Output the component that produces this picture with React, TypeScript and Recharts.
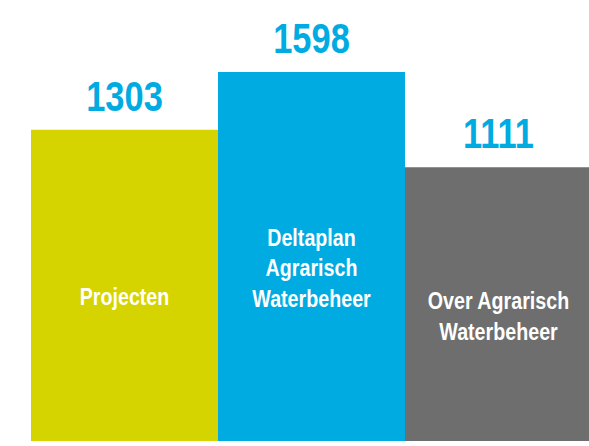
import { BarChart, Bar, XAxis, YAxis, Cell, LabelList } from 'recharts';

const CATEGORIES = ['Projecten', 'Deltaplan\nAgrarisch\nWaterbeheer', 'Over Agrarisch\nWaterbeheer'];
const VALUES = [1303, 1598, 1111];
const BAR_COLORS = ['#d5d400', '#00abe2', '#6e6e6e'];

// axis range (hidden axis)
const Y_DOMAIN: [number, number] = [-290, 1598];

const data = CATEGORIES.map((name, i) => ({ name, value: VALUES[i] }));

// no narrow font installed, so squeeze a regular bold one
const FONT = '"Liberation Sans", Arial, sans-serif';
const SQUEEZE = 0.82;

const ValueLabel = (props: any) => {
    const { x, y, width, value } = props;
    const cx = x + width / 2;
    return (
        <text
            transform={`translate(${cx},${y - 19}) scale(${SQUEEZE},1)`}
            textAnchor="middle"
            fill="#00abe2"
            fontFamily={FONT}
            fontWeight="bold"
            fontSize={42}
        >
            {value}
        </text>
    );
};

const NameLabel = (props: any) => {
    const { x, y, width, height, value } = props;
    const lines = String(value).split('\n');
    const lineH = 31;
    const cx = x + width / 2;
    const cy = y + height / 2 + 12;
    const first = cy - ((lines.length - 1) * lineH) / 2 + 8;
    return (
        <text
            transform={`translate(${cx},${first}) scale(${SQUEEZE},1)`}
            textAnchor="middle"
            fill="#ffffff"
            fontFamily={FONT}
            fontWeight="bold"
            fontSize={24}
        >
            {lines.map((l, i) => (
                <tspan key={i} x={0} y={i * lineH}>{l}</tspan>
            ))}
        </text>
    );
};

export default function App() {
    return (
        <div style={{ width: 589, height: 446, overflow: 'hidden', background: '#fff' }}>
            <style>{`body{margin:0}`}</style>
            <BarChart
                width={592}
                height={446}
                data={data}
                margin={{ top: 72, right: 0, bottom: 5, left: 31 }}
                barCategoryGap={0}
                barGap={0}
            >
                <XAxis dataKey="name" hide />
                <YAxis hide domain={Y_DOMAIN} allowDataOverflow />
                <Bar
                    dataKey={(d: any) => [Y_DOMAIN[0], d.value]}
                    isAnimationActive={false}
                >
                    {data.map((_, i) => (
                        <Cell key={`cell-${i}`} fill={BAR_COLORS[i]} />
                    ))}
                    <LabelList dataKey="value" content={<ValueLabel />} />
                    <LabelList dataKey="name" content={<NameLabel />} />
                </Bar>
            </BarChart>
        </div>
    );
}
